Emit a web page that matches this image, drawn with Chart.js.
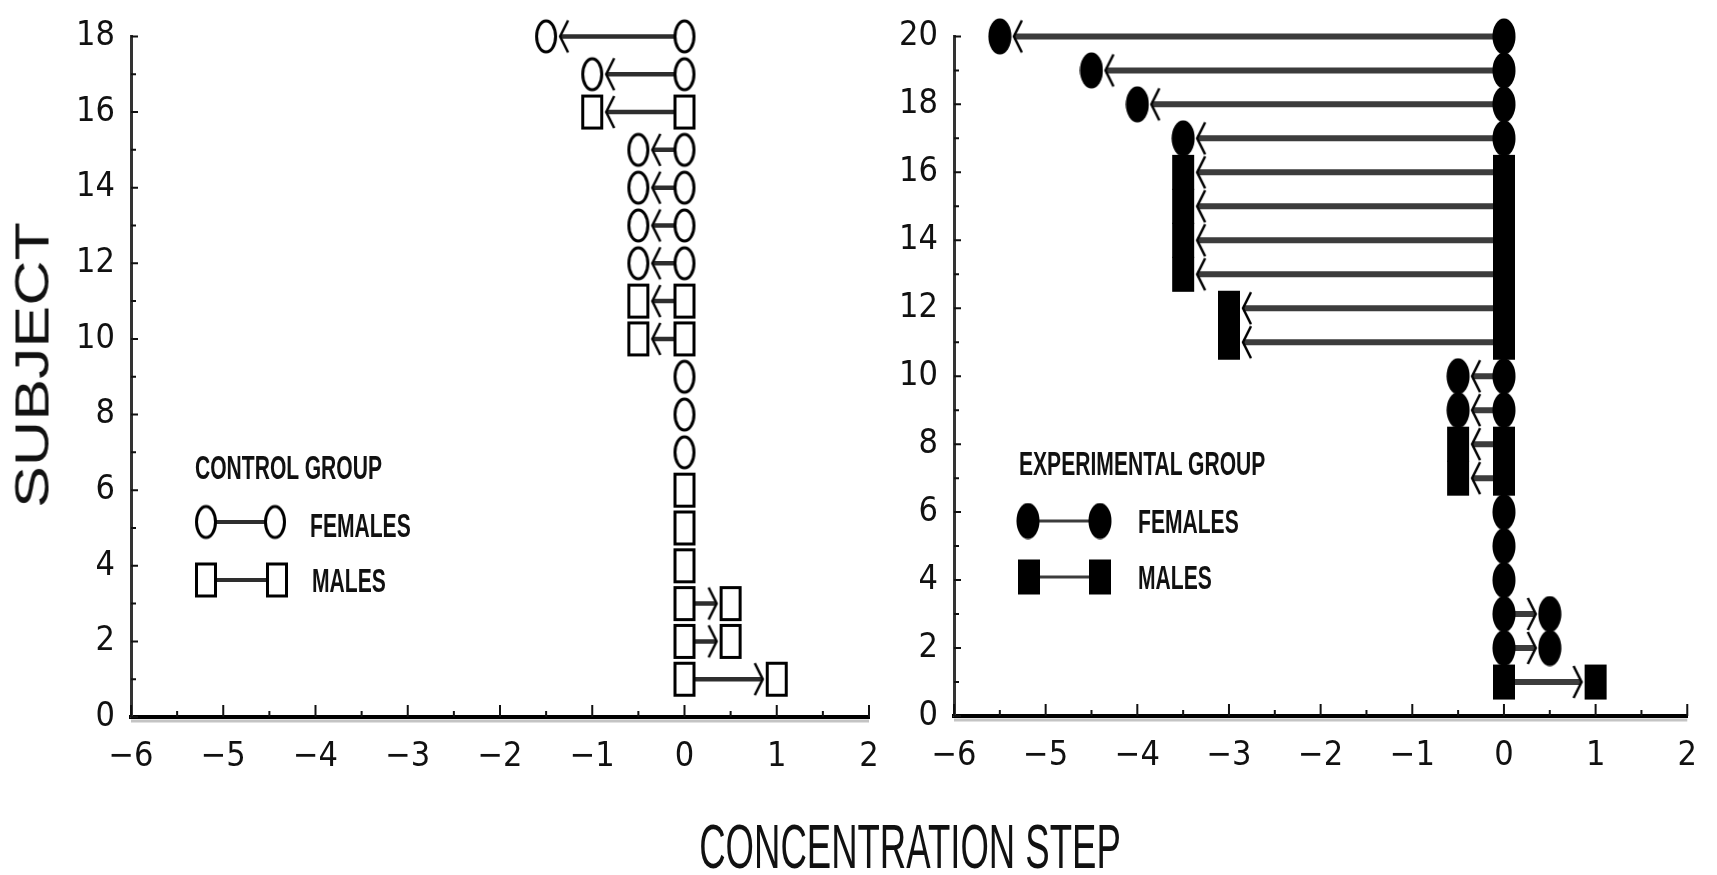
<!DOCTYPE html>
<html>
<head>
<meta charset="utf-8">
<script src="https://cdn.jsdelivr.net/npm/chart.js@4.4.1/dist/chart.umd.min.js"></script>
<style>
  html, body { margin: 0; padding: 0; background: #fff; }
  #page { position: relative; width: 1717px; height: 875px; overflow: hidden;
          font-family: 'Liberation Sans', Arial, sans-serif; color: #111; }
  canvas { position: absolute; left: 0; top: 0; }
  .lbl { position: absolute; white-space: nowrap; line-height: 1; }
  .center { transform-origin: 50% 50%; }
  .leg { font-size: 34px; font-weight: bold; transform-origin: 0 50%; transform: translateY(-50%) scaleX(0.62); }
</style>
</head>
<body>
<div id="page">
  <canvas id="control" width="1717" height="875"></canvas>
  <canvas id="experimental" width="1717" height="875"></canvas>

  <div class="lbl center" style="left:32px; top:365px; font-size:49px; transform: translate(-50%,-50%) rotate(-90deg) scaleX(1.28);">SUBJECT</div>
  <div class="lbl center" style="left:910px; top:846px; font-size:63px; transform: translate(-50%,-50%) scaleX(0.58);">CONCENTRATION STEP</div>

  <div class="lbl leg" style="left:195px; top:467px;">CONTROL GROUP</div>
  <div class="lbl leg" style="left:310px; top:525px;">FEMALES</div>
  <div class="lbl leg" style="left:312px; top:580px;">MALES</div>

  <div class="lbl leg" style="left:1019px; top:463px;">EXPERIMENTAL GROUP</div>
  <div class="lbl leg" style="left:1138px; top:521px;">FEMALES</div>
  <div class="lbl leg" style="left:1138px; top:577px;">MALES</div>
</div>
<script>
// subjects are numbered bottom to top; step = concentration step reached (0 = no change)
const controlSubjects = [1, 2, 3, 4, 5, 6, 7, 8, 9, 10, 11, 12, 13, 14, 15, 16, 17, 18];
const controlSex = ['M', 'M', 'M', 'M', 'M', 'M', 'F', 'F', 'F', 'M', 'M', 'F', 'F', 'F', 'F', 'M', 'F', 'F'];
const controlStep = [1, 0.5, 0.5, 0, 0, 0, 0, 0, 0, -0.5, -0.5, -0.5, -0.5, -0.5, -0.5, -1, -1, -1.5];

const expSubjects = [1, 2, 3, 4, 5, 6, 7, 8, 9, 10, 11, 12, 13, 14, 15, 16, 17, 18, 19, 20];
const expSex = ['M', 'F', 'F', 'F', 'F', 'F', 'M', 'M', 'F', 'F', 'M', 'M', 'M', 'M', 'M', 'M', 'F', 'F', 'F', 'F'];
const expStep = [1, 0.5, 0.5, 0, 0, 0, -0.5, -0.5, -0.5, -0.5, -3, -3, -3.5, -3.5, -3.5, -3.5, -3.5, -4, -4.5, -5.5];

const xTicks = [-6, -5, -4, -3, -2, -1, 0, 1, 2];
const controlYTicks = [0, 2, 4, 6, 8, 10, 12, 14, 16, 18];
const expYTicks = [0, 2, 4, 6, 8, 10, 12, 14, 16, 18, 20];

const FONT = "'Liberation Sans Narrow', 'DejaVu Sans Condensed', 'Liberation Sans', sans-serif";

// tall ellipse / rectangle symbols like the scanned figure
function markerCanvas(shape, filled) {
  const c = document.createElement('canvas');
  c.width = 24; c.height = 37;
  const g = c.getContext('2d');
  g.lineWidth = 3;
  g.strokeStyle = '#000';
  g.fillStyle = filled ? '#000' : '#fff';
  g.beginPath();
  if (shape === 'ellipse') g.ellipse(12, 18.5, filled ? 11.5 : 9.5, filled ? 18 : 15.5, 0, 0, Math.PI * 2);
  else if (filled) g.rect(1, 1, 22, 35);
  else g.rect(2.5, 2.5, 19, 32);
  g.fill();
  if (!filled) g.stroke();
  return c;
}

// "<" head sitting just outside the end marker (rotated 180 for rightward arrows)
function chevronCanvas() {
  const c = document.createElement('canvas');
  c.width = 50; c.height = 36;
  const g = c.getContext('2d');
  const cx = 25;
  g.fillStyle = '#fff';
  g.fillRect(cx + 10, 13, 4, 10);
  g.strokeStyle = '#000';
  g.lineWidth = 2.5;
  g.beginPath();
  g.moveTo(cx + 22, 2);
  g.lineTo(cx + 14, 18);
  g.lineTo(cx + 22, 34);
  g.stroke();
  return c;
}

const openCircle = markerCanvas('ellipse', false);
const openSquare = markerCanvas('rect', false);
const solidCircle = markerCanvas('ellipse', true);
const solidSquare = markerCanvas('rect', true);
const arrowHead = chevronCanvas();

const fmt = v => (v < 0 ? '\u2212' + Math.abs(v) : String(v));

// ticks point into the plot, with the grey scan shadow under the x axis
const innerTicks = {
  id: 'innerTicks',
  beforeDatasetsDraw(chart) {
    const { ctx, chartArea: a, scales: { x, y } } = chart;
    ctx.save();
    ctx.strokeStyle = '#c4c4c4';
    ctx.lineWidth = 3;
    ctx.beginPath();
    ctx.moveTo(a.left, a.bottom + 4);
    ctx.lineTo(a.right, a.bottom + 4);
    ctx.stroke();
    ctx.strokeStyle = '#111';
    ctx.lineWidth = 2;
    ctx.beginPath();
    for (let v = x.min; v <= x.max; v += 0.5) {
      const px = x.getPixelForValue(v);
      const len = Number.isInteger(v) ? 12 : 6;
      ctx.moveTo(px, a.bottom);
      ctx.lineTo(px, a.bottom - len);
    }
    for (let v = y.min; v <= y.max; v += 1) {
      const py = y.getPixelForValue(v);
      const len = v % 2 === 0 ? 7 : 5;
      ctx.moveTo(a.left, py);
      ctx.lineTo(a.left + len, py);
    }
    ctx.stroke();
    ctx.restore();
  }
};

function legendPlugin(rows, lineColor, lineWidth) {
  return {
    id: 'legendSymbols',
    afterDraw(chart) {
      const ctx = chart.ctx;
      ctx.save();
      ctx.strokeStyle = lineColor;
      ctx.lineWidth = lineWidth;
      rows.forEach(r => {
        ctx.beginPath();
        ctx.moveTo(r.x1, r.y);
        ctx.lineTo(r.x2, r.y);
        ctx.stroke();
        ctx.drawImage(r.marker, r.x1 - r.marker.width / 2, r.y - r.marker.height / 2);
        ctx.drawImage(r.marker, r.x2 - r.marker.width / 2, r.y - r.marker.height / 2);
      });
      ctx.restore();
    }
  };
}

function buildChart(id, subjects, sex, steps, yTicks, area, style, legendRows) {
  const female = [], male = [], heads = [], shafts = [];
  subjects.forEach((s, i) => {
    const list = sex[i] === 'F' ? female : male;
    list.push({ x: 0, y: s });
    if (steps[i] !== 0) {
      list.push({ x: steps[i], y: s });
      heads.push({ x: steps[i], y: s });
      shafts.push({ x: 0, y: s }, { x: steps[i], y: s }, { x: null, y: null });
    }
  });

  const yAxisWidth = 60, xAxisHeight = 70;
  const tickFont = { family: FONT, size: 34 };

  return new Chart(document.getElementById(id), {
    type: 'scatter',
    data: {
      datasets: [
        { label: 'Females', data: female, pointStyle: style.female, pointRadius: 12, clip: false },
        { label: 'Males', data: male, pointStyle: style.male, pointRadius: 12, clip: false },
        { label: 'arrow', data: heads, pointStyle: arrowHead, pointRadius: 12, clip: false,
          pointRotation: c => (c.raw && c.raw.x > 0 ? 180 : 0) },
        { label: 'change', data: shafts, showLine: true, spanGaps: false, pointRadius: 0,
          borderColor: style.lineColor, borderWidth: style.lineWidth, clip: false }
      ]
    },
    options: {
      responsive: false,
      animation: false,
      events: [],
      layout: {
        padding: {
          left: area.left - yAxisWidth,
          right: 1717 - area.right,
          top: area.top,
          bottom: 875 - area.bottom - xAxisHeight
        }
      },
      plugins: { legend: { display: false }, tooltip: { enabled: false } },
      scales: {
        x: {
          type: 'linear', min: -6, max: 2,
          afterBuildTicks: s => { s.ticks = xTicks.map(v => ({ value: v })); },
          afterFit: s => { s.height = xAxisHeight; },
          grid: { display: false, drawTicks: false },
          border: { display: true, color: '#000', width: 4 },
          ticks: { font: tickFont, color: '#111', padding: 20, autoSkip: false, maxRotation: 0,
                   callback: v => fmt(v) }
        },
        y: {
          type: 'linear', min: 0, max: yTicks[yTicks.length - 1],
          afterBuildTicks: s => { s.ticks = yTicks.map(v => ({ value: v })); },
          afterFit: s => { s.width = yAxisWidth; },
          grid: { display: false, drawTicks: false },
          border: { display: true, color: '#333', width: 3 },
          ticks: { font: tickFont, color: '#111', padding: 16, autoSkip: false,
                   callback: v => fmt(v) }
        }
      }
    },
    plugins: [innerTicks, legendPlugin(legendRows, style.lineColor, style.legendLine)]
  });
}

buildChart('control', controlSubjects, controlSex, controlStep, controlYTicks,
  { left: 131, right: 869, top: 27, bottom: 717 },
  { female: openCircle, male: openSquare, lineColor: '#2e2e2e', lineWidth: 4.5, legendLine: 4 },
  [{ marker: openCircle, x1: 206, x2: 275, y: 522 }, { marker: openSquare, x1: 206, x2: 277, y: 580 }]);

buildChart('experimental', expSubjects, expSex, expStep, expYTicks,
  { left: 954, right: 1696, top: 23, bottom: 716 },
  { female: solidCircle, male: solidSquare, lineColor: '#3c3c3c', lineWidth: 6, legendLine: 3 },
  [{ marker: solidCircle, x1: 1028, x2: 1100, y: 521 }, { marker: solidSquare, x1: 1029, x2: 1100, y: 577 }]);
</script>
</body>
</html>
